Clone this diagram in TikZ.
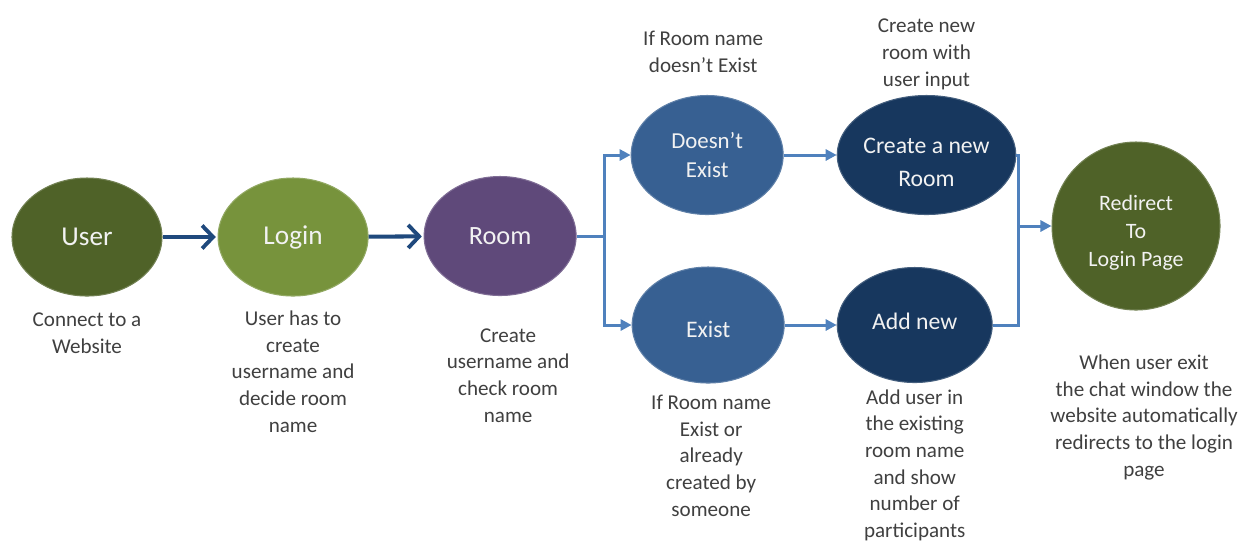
\documentclass[tikz,border=0pt]{standalone}
\usepackage{fontspec}
\setmainfont{Carlito}
\usepackage{xcolor}
\usetikzlibrary{arrows.meta,positioning,shapes.geometric,calc}
\definecolor{ChatOlive}{HTML}{4F6228}
\definecolor{ChatLeaf}{HTML}{77933C}
\definecolor{ChatPlum}{HTML}{5F497A}
\definecolor{ChatBlue}{HTML}{376092}
\definecolor{ChatNavy}{HTML}{17375E}
\definecolor{ChatInk}{HTML}{1F497D}
\definecolor{ChatWire}{HTML}{4F81BD}
\definecolor{ChatGray}{HTML}{404040}
% text block moved up or down inside its ellipse
\newcommand{\shiftedtext}[2]{\raisebox{#1}[0pt][0pt]{\begin{tabular}{@{}c@{}}#2\end{tabular}}}

\begin{document}
\begin{tikzpicture}[
  stage/.style={ellipse, fill=#1, draw=#1!80!white, line width=0.6pt, text=white!95!black, minimum width=3.04cm, minimum height=2.38cm, inner sep=0pt, align=center},
  note/.style={text=ChatGray, align=center, inner sep=0pt, font=\fontsize{12}{15.2}\selectfont},
  mainarrow/.style={-{Straight Barb[length=2.2mm,width=4.6mm,line width=2.2pt]}, line width=2.3pt, color=ChatInk, shorten >=1pt},
  branch/.style={line width=1.7pt, color=ChatWire},
  branchtip/.style={branch, -{Triangle[length=2.2mm,width=2.2mm]}}
]
\useasboundingbox (0,0) rectangle (25.04,-10.84);

% main row
\node[stage=ChatOlive, font=\fontsize{15.5}{18}\selectfont, minimum width=3.0cm, minimum height=2.36cm] (user) at (1.74,-4.74) {User};
\node[stage=ChatLeaf, font=\fontsize{15.5}{18}\selectfont, minimum width=3.0cm, minimum height=2.36cm, right=1.1cm of user] (login) {Login};
\node[stage=ChatPlum, font=\fontsize{15}{18}\selectfont, right=1.1cm of login, yshift=0.02cm] (room) {Room};

% the two branches
\node[stage=ChatBlue, font=\fontsize{13}{17}\selectfont, right=1.08cm of room, yshift=1.62cm] (dne) {Doesn't\\Exist};
\node[stage=ChatBlue, font=\fontsize{13.5}{17}\selectfont, minimum height=2.32cm, right=1.1cm of room, yshift=-1.78cm] (exist) {\shiftedtext{-0.26cm}{Exist}};
\node[stage=ChatNavy, font=\fontsize{13.5}{18.8}\selectfont, right=1.06cm of dne] (create) {\shiftedtext{-0.29cm}{Create a new\\Room}};
\node[stage=ChatNavy, font=\fontsize{13.5}{17}\selectfont, minimum width=3.1cm, minimum height=2.3cm, right=1.04cm of exist] (addnew) {\shiftedtext{-0.1cm}{Add new}};
\node[stage=ChatOlive, circle, font=\fontsize{12.5}{15.9}\selectfont, minimum size=3.36cm] (redirect) at (22.72,-4.52) {\shiftedtext{-0.24cm}{Redirect\\To\\Login Page}};

% notes
\node[note, below=0.32cm of user] (userNote) {Connect to a\\Website};
\node[note, below=0.28cm of login] (loginNote) {User has to\\create\\username and\\decide room\\name};
\node[note, below=0.64cm of room, xshift=0.16cm] (roomNote) {Create\\username and\\check room\\name};
\node[note, above=0.44cm of dne, xshift=-0.08cm] (dneNote) {If Room name\\doesn't Exist};
\node[note, above=0.1cm of create] (createNote) {Create new\\room with\\user input};
\node[note, below=0.22cm of exist, xshift=0.06cm] (existNote) {If Room name\\Exist or\\already\\created by\\someone};
\node[note, below=0.12cm of addnew] (addnewNote) {Add user in\\the existing\\room name\\and show\\number of\\participants};
\node[note, below=0.88cm of redirect, xshift=0.16cm] (redirectNote) {When user exit\\the chat window the\\website automatically\\redirects to the login\\page};

% connectors
\draw[mainarrow] (user) -- (login);
\draw[mainarrow] (login) -- (room);
\draw[branch] (room.east) -- ++(0.56,0) coordinate (split);
\draw[branchtip] (split) |- (dne);
\draw[branchtip] (split) |- (exist);
\draw[branchtip] (dne) -- (create);
\draw[branchtip] (exist) -- (addnew);
\path (redirect.west) ++(-0.66,0) coordinate (merge);
\draw[branch] (create.east) -| (merge) |- (addnew.east);
\draw[branchtip] (merge) -- (redirect.west);
\end{tikzpicture}
\end{document}
